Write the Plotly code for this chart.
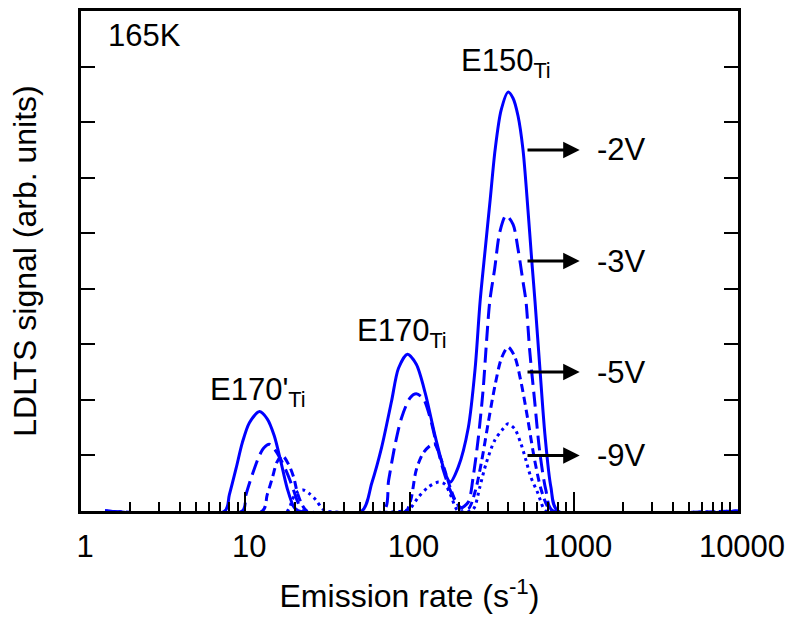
import math
import plotly.graph_objects as go

# LDLTS spectra at 165 K for four reverse biases
rate_2V = [1.4, 7.5, 8.0, 8.8, 9.6, 10.6, 12.2, 13.6, 15.0, 16.5, 18.0, 19.8, 21.2,
           51.2, 58.9, 67.6, 77.8, 85.7, 97.2, 110, 125, 144, 165, 177, 198, 228, 251,
           269, 289, 310, 332, 361, 398, 427, 458, 491, 526, 556, 581, 622, 667, 726, 800, 10000]
sig_2V = [0, 0, 0.29, 0.77, 1.23, 1.59, 1.79, 1.66, 1.36, 0.88, 0.41, 0.07, 0,
          0, 0.5, 1.14, 1.98, 2.57, 2.82, 2.64, 2.11, 1.32, 0.68, 0.52, 0.79, 1.5, 2.57,
          3.77, 4.71, 5.61, 6.5, 7.21, 7.54, 7.43, 7.11, 6.5, 5.43, 4.48, 3.77, 2.57, 1.39, 0.43, 0, 0]

rate_3V = [1.4, 9.6, 10.1, 11.0, 12.2, 13.0, 14.0, 15.0, 16.3, 17.7, 19.3, 20.9, 22.5,
           69.5, 74.6, 81.9, 89.5, 101, 110, 121.5, 133.5, 145.8, 160.8, 176.5, 192.8, 203.8,
           228, 244, 262, 281, 293, 308, 330, 354.5, 387, 427, 458, 491, 512, 539.5, 578,
           619.5, 676, 746, 10000]
sig_3V = [0, 0, 0.29, 0.64, 1.0, 1.14, 1.2, 1.12, 0.95, 0.73, 0.45, 0.16, 0,
          0, 0.55, 1.21, 1.68, 2.04, 2.11, 2.02, 1.68, 1.21, 0.73, 0.38, 0.14, 0.05,
          0.16, 0.61, 1.3, 2.2, 2.96, 3.77, 4.36, 5.02, 5.32, 5.16, 4.71, 4.13, 3.77, 2.88, 1.98,
          1.09, 0.38, 0, 0]

rate_5V = [1.4, 12.7, 13.6, 14.6, 15.6, 16.8, 18.5, 19.8, 20.7, 22.2, 23.8,
           96, 98.6, 102.8, 108.7, 113.4, 121.5, 134, 141.8, 153.5, 164.6, 176.5, 189.2, 202.9,
           228, 251, 275, 302, 331, 363, 398, 437, 479, 525, 575, 631, 692, 741, 10000]
sig_5V = [0, 0, 0.29, 0.59, 0.88, 1.0, 0.82, 0.59, 0.34, 0.11, 0,
          0, 0.07, 0.25, 0.68, 0.86, 1.05, 1.18, 1.21, 0.98, 0.72, 0.43, 0.2, 0.07,
          0.04, 0.35, 0.9, 1.6, 2.25, 2.75, 2.95, 2.78, 2.3, 1.65, 0.95, 0.4, 0.08, 0, 0]

rate_9V = [1.4, 18, 19.3, 20.7, 22.5, 24.4, 26.9, 29.3, 31,
           92, 101, 113.4, 130, 150, 164.6, 180, 190, 198,
           237.6, 250, 268, 293, 330, 371.5, 398, 437, 477, 512, 548, 605, 649, 676, 10000]
sig_9V = [0, 0, 0.2, 0.34, 0.38, 0.32, 0.2, 0.05, 0,
          0, 0.05, 0.25, 0.43, 0.52, 0.48, 0.25, 0.07, 0,
          0, 0.08, 0.43, 0.86, 1.27, 1.48, 1.57, 1.48, 1.21, 0.91, 0.61, 0.32, 0.07, 0, 0]

x_tick_vals = [1, 10, 100, 1000, 10000]
x_tick_text = ["1", "10", "100", "1000", "10000"]
x_minor_vals = [m * 10 ** d for d in range(4) for m in range(2, 10)]
y_tick_vals = [1, 2, 3, 4, 5, 6, 7, 8]

bias_labels = ["-2V", "-3V", "-5V", "-9V"]
bias_arrow_levels = [6.5, 4.5, 2.5, 1.0]
arrow_tail_rate = 512
arrow_head_rate = 1087
bias_label_rate = 1340

peak_names = ["E150<sub>Ti</sub>", "E170<sub>Ti</sub>", "E170'<sub>Ti</sub>"]
peak_name_rate = [200, 46.5, 5.9]
peak_name_level = [8.07, 3.2, 2.15]

FONT = "Liberation Sans, Arial, Helvetica, sans-serif"
FS_TITLE = 32
FS = 31
BLUE = "#0000FF"

series = [
    (rate_2V, sig_2V, "solid"),
    (rate_3V, sig_3V, "15px,7px"),
    (rate_5V, sig_5V, "8px,5px"),
    (rate_9V, sig_9V, "3px,4px"),
]

fig = go.Figure()
for rates, sig, dash in series:
    fig.add_trace(go.Scatter(
        x=rates, y=sig, mode="lines",
        line=dict(color=BLUE, width=3, dash=dash, shape="spline", smoothing=0.8),
        showlegend=False, hoverinfo="skip",
    ))

annotations = []
# bias arrows with their voltage labels
for label, lvl in zip(bias_labels, bias_arrow_levels):
    annotations.append(dict(
        x=math.log10(arrow_head_rate), y=lvl, xref="x", yref="y",
        ax=math.log10(arrow_tail_rate), ay=lvl, axref="x", ayref="y",
        text="", showarrow=True, arrowhead=2, arrowsize=1.1, arrowwidth=3,
        arrowcolor="black", standoff=0, startstandoff=0,
    ))
    annotations.append(dict(
        x=math.log10(bias_label_rate), y=lvl, xref="x", yref="y",
        text=label, showarrow=False, xanchor="left", yanchor="middle",
        font=dict(family=FONT, size=FS, color="black"),
    ))

for name, r, lvl in zip(peak_names, peak_name_rate, peak_name_level):
    annotations.append(dict(
        x=math.log10(r), y=lvl, xref="x", yref="y",
        text=name, showarrow=False, xanchor="left", yanchor="middle",
        font=dict(family=FONT, size=FS, color="black"),
    ))

annotations.append(dict(
    x=math.log10(1.42), y=8.56, xref="x", yref="y",
    text="165K", showarrow=False, xanchor="left", yanchor="middle",
    font=dict(family=FONT, size=FS, color="black"),
))

fig.update_layout(
    width=793, height=619,
    margin=dict(l=81, r=52, t=8, b=108),
    paper_bgcolor="white", plot_bgcolor="white",
    font=dict(family=FONT, size=FS, color="black"),
    annotations=annotations,
    showlegend=False,
)

fig.update_xaxes(
    type="log", range=[0, 4],
    tickmode="array", tickvals=x_tick_vals, ticktext=x_tick_text,
    ticks="inside", ticklen=19, tickwidth=2, tickcolor="black",
    ticklabelstandoff=6, ticklabelshift=4,
    minor=dict(tickmode="array", tickvals=x_minor_vals, ticks="inside", ticklen=9,
               tickwidth=2, tickcolor="black", showgrid=False),
    showline=True, linewidth=3, linecolor="black", mirror=True,
    showgrid=False, zeroline=False,
    tickfont=dict(family=FONT, size=FS, color="black"),
    title=dict(text="Emission rate (s<sup>-1</sup>)",
               font=dict(family=FONT, size=FS_TITLE, color="black"), standoff=22),
)
fig.update_yaxes(
    range=[0, 9],
    tickmode="array", tickvals=y_tick_vals, showticklabels=False,
    ticks="inside", ticklen=14, tickwidth=2, tickcolor="black",
    showline=True, linewidth=3, linecolor="black", mirror="ticks",
    showgrid=False, zeroline=False,
    title=dict(text="LDLTS signal (arb. units)",
               font=dict(family=FONT, size=FS_TITLE, color="black"), standoff=32),
)

fig.write_html("out.html")
